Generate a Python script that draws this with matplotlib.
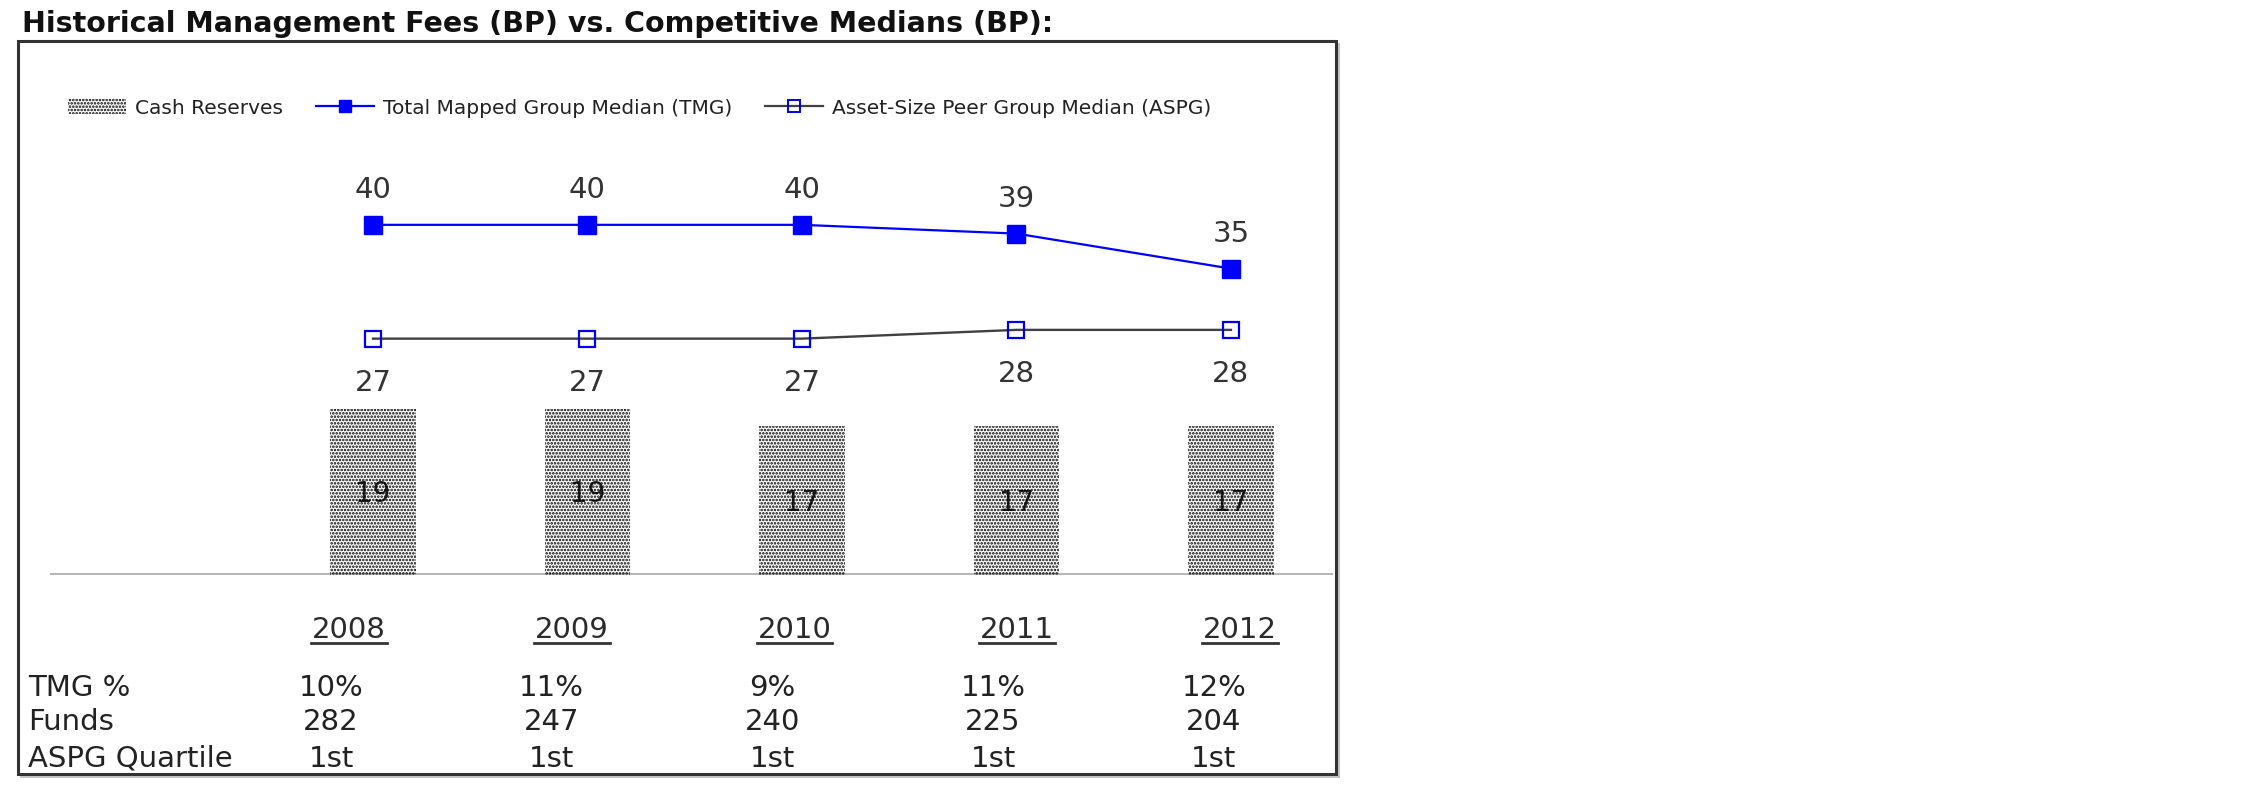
import matplotlib
matplotlib.use('Agg')
import matplotlib.pyplot as plt
from matplotlib.patches import Rectangle
from matplotlib.lines import Line2D
import numpy as np

# data
years = ['2008', '2009', '2010', '2011', '2012']
cash_reserves = [19, 19, 17, 17, 17]
tmg_median = [40, 40, 40, 39, 35]
aspg_median = [27, 27, 27, 28, 28]
row_labels = ['TMG %', 'Funds', 'ASPG Quartile']
tmg_pct = ['10%', '11%', '9%', '11%', '12%']
funds = ['282', '247', '240', '225', '204']
aspg_quartile = ['1st', '1st', '1st', '1st', '1st']
legend_labels = ['Cash Reserves', 'Total Mapped Group Median (TMG)',
                 'Asset-Size Peer Group Median (ASPG)']
title = 'Historical Management Fees (BP) vs. Competitive Medians (BP):'

W, H = 2250, 796
plt.rcParams['font.family'] = ['DejaVu Sans']
plt.rcParams['hatch.linewidth'] = 1.25

fig = plt.figure(figsize=(W / 100, H / 100), dpi=100)


def fx(px):
    return px / W


def fy(py):
    return 1 - py / H


# chart area (pixel layout of the reference)
ax = fig.add_axes([fx(50), fy(575), fx(1333) - fx(50), fy(41) - fy(575)])
x = np.arange(len(years))
ax.set_xlim(-1.506, 4.476)
ax.set_ylim(0, 61)
ax.axis('off')

ax.axhline(0, color='#b4b4b4', lw=2.8, zorder=1)

hatch = '.....'
ax.bar(x, cash_reserves, width=0.4, facecolor='none', edgecolor='#000000',
       linewidth=0, hatch=hatch, zorder=3)
for xi, v in zip(x, cash_reserves):
    ax.annotate(str(v), (xi, v / 2), xytext=(0, -7.3), textcoords='offset points',
                ha='center', va='baseline', fontsize=20, color='#222222', zorder=2)

ax.plot(x, tmg_median, color='#0000ff', lw=1.6, marker='s', ms=13,
        mfc='#0000ff', mec='#0000ff', zorder=5)
ax.plot(x, aspg_median, color='#404040', lw=1.7, marker='s', ms=11.5,
        mfc='none', mec='#0000ee', mew=1.6, zorder=5)

for xi, v in zip(x, tmg_median):
    ax.annotate(str(v), (xi, v), xytext=(0, 19.4), textcoords='offset points',
                ha='center', va='baseline', fontsize=21, color='#333333')
for xi, v in zip(x, aspg_median):
    ax.annotate(str(v), (xi, v), xytext=(0, -37.4), textcoords='offset points',
                ha='center', va='baseline', fontsize=21, color='#333333')

# legend
handles = [
    Rectangle((0, 0), 1, 1, facecolor='none', edgecolor='#000000', linewidth=0, hatch=hatch),
    Line2D([], [], color='#0000ff', lw=1.6, marker='s', ms=9, mfc='#0000ff', mec='#0000ff'),
    Line2D([], [], color='#404040', lw=1.6, marker='s', ms=8, mfc='none', mec='#0000ee', mew=1.4),
]
fig.legend(handles, legend_labels, loc='center left', bbox_to_anchor=(fx(68), fy(108)),
           ncol=3, frameon=False, fontsize=14.5, handlelength=2.9, handletextpad=0.45,
           columnspacing=1.6, borderpad=0, borderaxespad=0, labelcolor='#222222')

# title and frame
fig.text(fx(22), fy(32), title, ha='left', va='baseline', fontsize=20.5,
         fontweight='bold', color='#111111')
fig.add_artist(Rectangle((fx(18), fy(774)), fx(1336) - fx(18), fy(41) - fy(774),
                         transform=fig.transFigure, fill=False, edgecolor='#333333', linewidth=2.2))
fig.add_artist(Line2D([fx(1339), fx(1339)], [fy(44), fy(777)], transform=fig.transFigure,
                      color='#b8b8b8', lw=1.2))
fig.add_artist(Line2D([fx(21), fx(1339)], [fy(777), fy(777)], transform=fig.transFigure,
                      color='#b8b8b8', lw=1.2))

# table under the chart
year_texts = []
for i, yr in enumerate(years):
    t = fig.text(fx(349 + 222.75 * i), fy(638), yr, ha='center', va='baseline',
                 fontsize=21, color='#2b2b2b')
    year_texts.append(t)

rows = [tmg_pct, funds, aspg_quartile]
row_base = [696, 730, 767]
for r, (lab, vals) in enumerate(zip(row_labels, rows)):
    fig.text(fx(28), fy(row_base[r]), lab, ha='left', va='baseline',
             fontsize=21, color='#222222')
    for i, v in enumerate(vals):
        fig.text(fx(331 + 220.7 * i), fy(row_base[r]), v, ha='center', va='baseline',
                 fontsize=21, color='#222222')

# underline the year headings
fig.canvas.draw()
renderer = fig.canvas.get_renderer()
for t in year_texts:
    bb = t.get_window_extent(renderer)
    yl = fy(638) - 5 / H
    fig.add_artist(Line2D([bb.x0 / W - 1 / W, bb.x1 / W + 1 / W], [yl, yl],
                          transform=fig.transFigure, color='#333333', lw=2))

fig.savefig('out.png', dpi=100, facecolor='white')
